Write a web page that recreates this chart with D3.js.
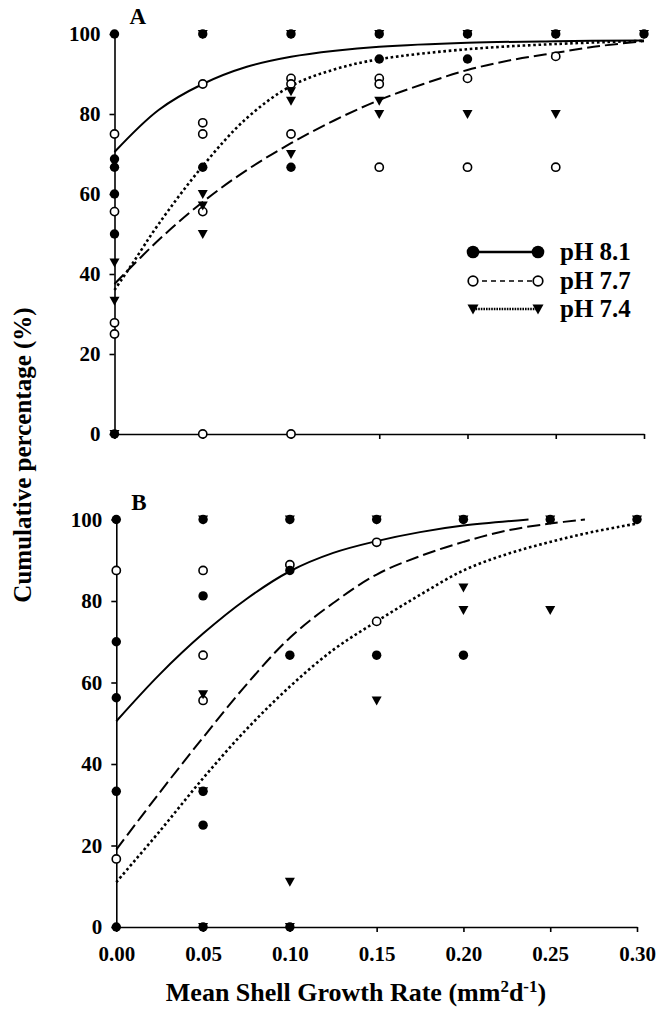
<!DOCTYPE html>
<html><head><meta charset="utf-8">
<script src="https://cdn.jsdelivr.net/npm/d3@7"></script>
<style>
html,body{margin:0;padding:0;background:#fff;}
svg text{font-family:"Liberation Serif","Times New Roman",serif;font-weight:bold;fill:#000;}
</style></head>
<body>
<svg id="chart" width="662" height="1015"></svg>
<script>
// ---------- data ----------
const xTicks = [0, 0.05, 0.10, 0.15, 0.20, 0.25, 0.30];
const yTicks = [0, 20, 40, 60, 80, 100];
const seriesNames = ["pH 8.1", "pH 7.7", "pH 7.4"];

// Panel A observed points [x, y]
const A_ph81 = [[0,100],[0,68.75],[0,66.7],[0,60],[0,50],[0,0],[0.05,100],[0.05,66.7],[0.10,100],[0.10,66.7],[0.15,100],[0.15,93.75],[0.20,100],[0.20,93.75],[0.25,100],[0.30,100]];
const A_ph77 = [[0,75],[0,55.6],[0,27.8],[0,25],[0.05,87.5],[0.05,77.8],[0.05,75],[0.05,55.6],[0.05,0],[0.10,88.9],[0.10,87.5],[0.10,75],[0.10,0],[0.15,88.9],[0.15,87.5],[0.15,66.7],[0.20,88.9],[0.20,66.7],[0.25,94.4],[0.25,66.7]];
const A_ph74 = [[0,42.9],[0,33.3],[0,0],[0.05,100],[0.05,60],[0.05,57.1],[0.05,50],[0.10,100],[0.10,85.7],[0.10,83.3],[0.10,70],[0.15,100],[0.15,83.3],[0.15,80],[0.20,100],[0.20,80],[0.25,100],[0.25,80],[0.30,100]];

// Panel A fitted curves
const A_fit81_x = [0,0.025,0.05,0.075,0.10,0.125,0.15,0.20,0.25,0.30];
const A_fit81_y = [70.5,81,87.5,91.8,94.3,95.8,96.8,97.8,98.2,98.4];
const A_fit77_x = [0,0.025,0.05,0.075,0.10,0.125,0.15,0.175,0.20,0.225,0.25,0.275,0.30];
const A_fit77_y = [37.5,48.5,58,66,72.7,78.5,83.5,87.5,91,93.5,95.3,97,98.2];
const A_fit74_x = [0,0.01,0.025,0.05,0.075,0.10,0.125,0.15,0.20,0.25,0.30];
const A_fit74_y = [36,42.5,52.5,67,79,87,91.2,93.7,96.2,97.5,98.3];

// Panel B observed points
const B_ph81 = [[0,100],[0,70],[0,56.25],[0,33.3],[0,0],[0.05,100],[0.05,81.25],[0.05,33.3],[0.05,25],[0.05,0],[0.10,100],[0.10,87.5],[0.10,66.7],[0.10,0],[0.15,100],[0.15,66.7],[0.20,100],[0.20,66.7],[0.25,100],[0.30,100]];
const B_ph77 = [[0,87.5],[0,16.7],[0.05,87.5],[0.05,66.7],[0.05,55.6],[0.10,88.9],[0.15,94.4],[0.15,75]];
const B_ph74 = [[0.05,100],[0.05,57.1],[0.05,33.3],[0.05,0],[0.10,100],[0.10,11.1],[0.10,0],[0.15,100],[0.15,55.6],[0.20,100],[0.20,83.3],[0.20,77.8],[0.25,100],[0.25,77.8],[0.30,100]];

// Panel B fitted curves
const B_fit81_x = [0,0.025,0.05,0.075,0.10,0.125,0.15,0.175,0.20,0.2375];
const B_fit81_y = [50.5,62,72,80.5,87.3,91.8,94.7,96.9,98.5,100];
const B_fit77_x = [0,0.025,0.05,0.075,0.10,0.125,0.15,0.175,0.20,0.225,0.25,0.27];
const B_fit77_y = [19,33,46.5,59.5,71,79.5,86.5,91,94.5,97.3,99,100];
const B_fit74_x = [0,0.025,0.05,0.075,0.10,0.125,0.15,0.175,0.20,0.225,0.25,0.275,0.30];
const B_fit74_y = [11,23.5,36.5,48.5,59,68,75,81.5,87.5,91.5,94.5,97,99];

// ---------- drawing ----------
const svg = d3.select("#chart");
const FONT = '"Liberation Serif","Times New Roman",serif';
const lineStyles = [
  {dash: null, width: 2},
  {dash: "13,5", width: 2},
  {dash: "2.6,2.7", width: 2.6}
];
const triPath = (s) => `M${-s/2},${-s*0.4}L${s/2},${-s*0.4}L0,${s*0.5}Z`;

function drawPanel(cfg) {
  const x = d3.scaleLinear().domain([0, 0.30]).range(cfg.xr);
  const y = d3.scaleLinear().domain([0, 100]).range(cfg.yr);
  const g = svg.append("g");

  // axes
  const yAx = g.append("g").attr("transform", `translate(${cfg.xr[0]},0)`)
    .call(d3.axisLeft(y).tickValues(yTicks).tickSize(5).tickSizeOuter(0).tickPadding(9).tickFormat(d3.format("d")));
  const xAx = g.append("g").attr("transform", `translate(0,${cfg.yr[0]})`)
    .call(d3.axisBottom(x).tickValues(xTicks).tickSize(5).tickSizeOuter(0).tickPadding(14)
      .tickFormat(cfg.xLabels ? d3.format(".2f") : ""));
  [yAx, xAx].forEach(a => {
    a.selectAll("path.domain").attr("stroke", "#000").attr("stroke-width", 1.6);
    a.selectAll(".tick line").attr("stroke", "#000").attr("stroke-width", 1.6);
    a.selectAll(".tick text").style("font-family", FONT).style("font-weight", "bold")
      .style("font-size", "21px").attr("fill", "#000");
  });

  // curves
  const line = d3.line().x(d => x(d[0])).y(d => y(d[1])).curve(d3.curveCatmullRom.alpha(0.5));
  cfg.fits.forEach((f, i) => {
    const pts = f[0].map((v, k) => [v, f[1][k]]);
    const p = g.append("path").attr("d", line(pts)).attr("fill", "none")
      .attr("stroke", "#000").attr("stroke-width", lineStyles[i].width);
    if (lineStyles[i].dash) p.attr("stroke-dasharray", lineStyles[i].dash);
  });

  // points: open circles, triangles, then filled circles
  g.selectAll(null).data(cfg.p77).enter().append("circle")
    .attr("cx", d => x(d[0])).attr("cy", d => y(d[1])).attr("r", 4.1)
    .attr("fill", "#fff").attr("stroke", "#000").attr("stroke-width", 1.6);
  g.selectAll(null).data(cfg.p74).enter().append("path")
    .attr("d", triPath(10))
    .attr("transform", d => `translate(${x(d[0])},${y(d[1])})`).attr("fill", "#000");
  g.selectAll(null).data(cfg.p81).enter().append("circle")
    .attr("cx", d => x(d[0])).attr("cy", d => y(d[1])).attr("r", 4.7).attr("fill", "#000");

  // panel letter
  g.append("text").attr("x", cfg.xr[0] + 15).attr("y", cfg.yr[1] - 10)
    .style("font-size", "23px").text(cfg.label);
  return {x, y, g};
}

const A = drawPanel({xr: [114.5, 644], yr: [434, 34], label: "A", xLabels: false,
  p81: A_ph81, p77: A_ph77, p74: A_ph74,
  fits: [[A_fit81_x, A_fit81_y], [A_fit77_x, A_fit77_y], [A_fit74_x, A_fit74_y]]});
const B = drawPanel({xr: [116.3, 637], yr: [927, 519.5], label: "B", xLabels: true,
  p81: B_ph81, p77: B_ph77, p74: B_ph74,
  fits: [[B_fit81_x, B_fit81_y], [B_fit77_x, B_fit77_y], [B_fit74_x, B_fit74_y]]});

// legend
const legY = [252, 281, 309];
const legX0 = 473, legX1 = 538;
const legDash = [null, "5,4", "1.6,1"];
const legW = [2.5, 1.6, 2.6];
const leg = svg.append("g");
seriesNames.forEach((name, i) => {
  const ln = leg.append("line").attr("x1", legX0).attr("x2", legX1).attr("y1", legY[i]).attr("y2", legY[i])
    .attr("stroke", "#000").attr("stroke-width", legW[i]);
  if (legDash[i]) ln.attr("stroke-dasharray", legDash[i]);
  [legX0, legX1].forEach(cx => {
    if (i === 0) leg.append("circle").attr("cx", cx).attr("cy", legY[i]).attr("r", 6.3).attr("fill", "#000");
    else if (i === 1) leg.append("circle").attr("cx", cx).attr("cy", legY[i]).attr("r", 4.8)
      .attr("fill", "#fff").attr("stroke", "#000").attr("stroke-width", 1.7);
    else leg.append("path").attr("d", triPath(11)).attr("transform", `translate(${cx},${legY[i]})`).attr("fill", "#000");
  });
  leg.append("text").attr("x", 560).attr("y", legY[i] + 8).style("font-size", "25px").text(name);
});

// axis titles
svg.append("text").attr("transform", "translate(31,455) rotate(-90)").attr("text-anchor", "middle")
  .style("font-size", "25px").text("Cumulative percentage (%)");
const xt = svg.append("text").attr("x", 356).attr("y", 1001).attr("text-anchor", "middle").style("font-size", "26px");
xt.append("tspan").text("Mean Shell Growth Rate (mm");
xt.append("tspan").attr("dy", -9).style("font-size", "17px").text("2");
xt.append("tspan").attr("dy", 9).text("d");
xt.append("tspan").attr("dy", -9).style("font-size", "17px").text("-1");
xt.append("tspan").attr("dy", 9).text(")");
</script>
</body></html>
